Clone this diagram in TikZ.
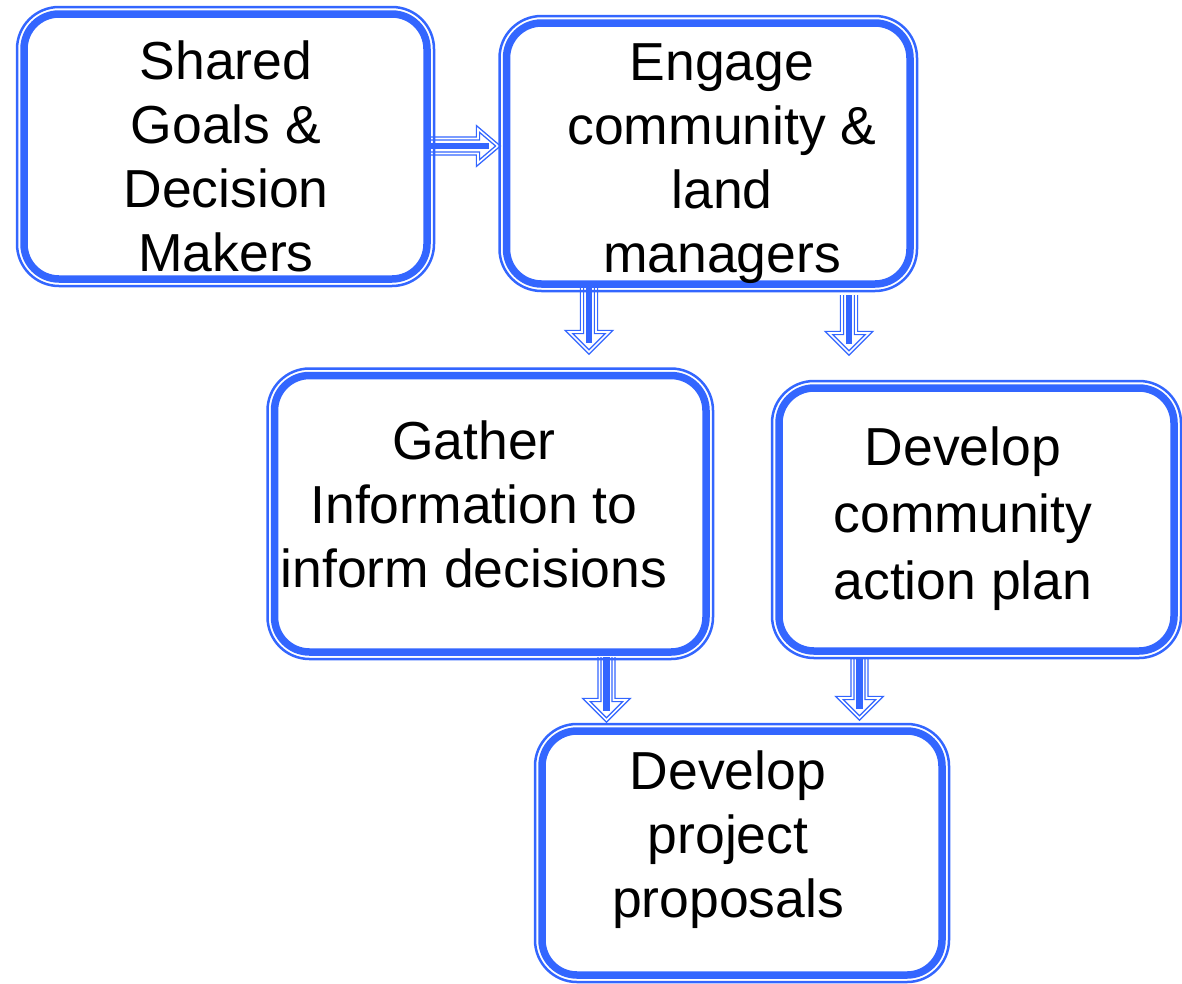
\documentclass[tikz,border=0pt]{standalone}
\usepackage{fontspec}
\setmainfont{Liberation Sans}
\usetikzlibrary{calc}
\definecolor{fb}{RGB}{51,102,255}
\tikzset{
  frame/.style={draw=fb, line width=7.5pt, rounded corners=35pt, inner sep=0pt, outer sep=0pt},
  outerframe/.style={draw=fb, line width=2.5pt, rounded corners=42pt},
  lbl/.style={font=\fontsize{53.5}{64}\selectfont, align=center, inner sep=0pt, anchor=north},
  arrowoutline/.style={draw=fb, line width=1.4pt, double=white, double distance=1.6pt, fill=white, line join=miter},
  arrowcore/.style={draw=fb, line width=6.5pt},
}
\newcommand\dnarrow[2]{%
  \draw[arrowoutline] let \p1=(#1), \p2=(#2) in
    (\x1-7pt,\y1) -- (\x1-7pt,\y2+20pt) -- (\x1-20pt,\y2+20pt) -- (\x1,\y2)
    -- (\x1+20pt,\y2+20pt) -- (\x1+7pt,\y2+20pt) -- (\x1+7pt,\y1);
  \draw[arrowcore] let \p1=(#1), \p2=(#2) in (\x1,\y1) -- (\x1,\y2+9pt);
}
\newcommand\rtarrow[2]{%
  \draw[arrowoutline] let \p1=(#1), \p2=(#2) in
    (\x1,\y1+7.5pt) -- (\x2-20pt,\y1+7.5pt) -- (\x2-20pt,\y1+17pt) -- (\x2,\y1)
    -- (\x2-20pt,\y1-17pt) -- (\x2-20pt,\y1-7.5pt) -- (\x1,\y1-7.5pt);
  \draw[arrowcore] let \p1=(#1), \p2=(#2) in (\x1,\y1) -- (\x2-9pt,\y1);
}
\begin{document}
\begin{tikzpicture}[x=1pt,y=-1pt]
  \useasboundingbox (0,0) rectangle (1182,983);
  % box frames (positions only)
  \path (225.5,146.5) node[minimum width=403pt, minimum height=265pt, inner sep=0pt, outer sep=0pt] (b1) {};
  \path (708.25,153.5) node[minimum width=403.5pt, minimum height=261pt, inner sep=0pt, outer sep=0pt] (b2) {};
  \path (490.25,513.75) node[minimum width=431.5pt, minimum height=276.5pt, inner sep=0pt, outer sep=0pt] (b3) {};
  \path (976.5,519.5) node[minimum width=395pt, minimum height=263pt, inner sep=0pt, outer sep=0pt] (b4) {};
  \path (742,853) node[minimum width=400pt, minimum height=244pt, inner sep=0pt, outer sep=0pt] (b5) {};
  % connector end points
  \coordinate (a1s) at ($(b1.east)+(3,-0.5)$);
  \coordinate (a1e) at ($(b2.west |- a1s)+(-8.5,0)$);
  \coordinate (a2s) at ($(b2.south)+(-119.25,3)$);
  \coordinate (a2e) at ($(a2s |- b3.north)+(0,-23.5)$);
  \coordinate (a3s) at ($(b2.south)+(140.75,11)$);
  \coordinate (a3e) at ($(a3s |- b4.north)+(0,-35)$);
  \coordinate (a4s) at ($(b3.south)+(116.25,5)$);
  \coordinate (a4e) at ($(a4s |- b5.north)+(0,-11)$);
  \coordinate (a5s) at ($(b4.south)+(-117,6)$);
  \coordinate (a5e) at ($(a5s |- b5.north)+(0,-13)$);
  % connectors
  \rtarrow{a1s}{a1e}
  \dnarrow{a2s}{a2e}
  \dnarrow{a3s}{a3e}
  \dnarrow{a4s}{a4e}
  \dnarrow{a5s}{a5e}
  % frames
  \foreach \b in {b1,b2,b3,b4,b5}{
    \draw[frame] (\b.north west) rectangle (\b.south east);
    \draw[outerframe] ($(\b.north west)+(-7,-7)$) rectangle ($(\b.south east)+(7,7)$);
  }
  % texts
  \node[lbl] (t1) at (226,41) {Shared\\Goals \&\\Decision\\Makers};
  \node[lbl] (t2) at (722,43) {Engage\\community \&\\land\\managers};
  \node[lbl] (t3) at (474,421) {Gather\\Information to\\inform decisions};
  \node[lbl, font=\fontsize{53.5}{67}\selectfont] (t4) at (963,427) {Develop\\community\\action plan};
  \node[lbl] (t5) at (728,751) {Develop\\project\\proposals};
\end{tikzpicture}
\end{document}
